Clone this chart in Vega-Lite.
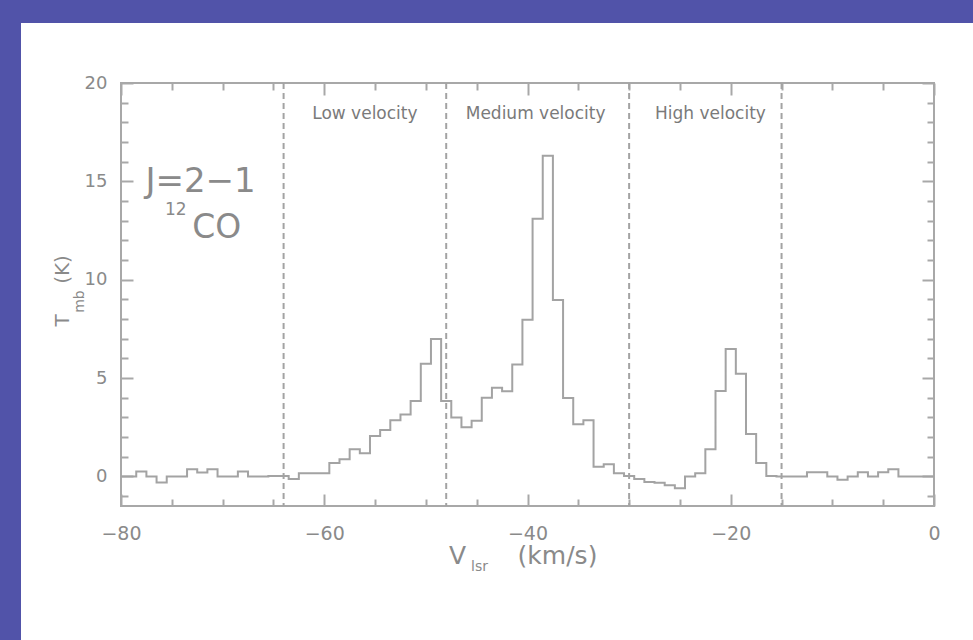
{
  "$schema": "https://vega.github.io/schema/vega-lite/v6.json",
  "padding": 0,
  "background": "#ffffff",
  "config": {
    "view": {"stroke": null},
    "font": "DejaVu Sans",
    "axis": {
      "grid": false,
      "domain": false,
      "labelFont": "DejaVu Sans",
      "titleFont": "DejaVu Sans",
      "titleFontWeight": "normal",
      "labelFlush": false,
      "labelOverlap": false,
      "tickColor": "#a8a8a8",
      "tickWidth": 2,
      "labelColor": "#8a8a8a",
      "titleColor": "#8a8a8a"
    }
  },
  "datasets": {
    "spectrum": [
      {"velocity": -80, "temperature": 0},
      {"velocity": -79, "temperature": 0},
      {"velocity": -78, "temperature": 0.25},
      {"velocity": -77, "temperature": 0},
      {"velocity": -76, "temperature": -0.3},
      {"velocity": -75, "temperature": 0},
      {"velocity": -74, "temperature": 0},
      {"velocity": -73, "temperature": 0.37},
      {"velocity": -72, "temperature": 0.2},
      {"velocity": -71, "temperature": 0.37},
      {"velocity": -70, "temperature": 0},
      {"velocity": -69, "temperature": 0},
      {"velocity": -68, "temperature": 0.25},
      {"velocity": -67, "temperature": 0},
      {"velocity": -66, "temperature": 0},
      {"velocity": -65, "temperature": 0.03},
      {"velocity": -64, "temperature": 0.03},
      {"velocity": -63, "temperature": -0.13},
      {"velocity": -62, "temperature": 0.17},
      {"velocity": -61, "temperature": 0.17},
      {"velocity": -60, "temperature": 0.17},
      {"velocity": -59, "temperature": 0.68},
      {"velocity": -58, "temperature": 0.88},
      {"velocity": -57, "temperature": 1.38},
      {"velocity": -56, "temperature": 1.18},
      {"velocity": -55, "temperature": 2.06},
      {"velocity": -54, "temperature": 2.36},
      {"velocity": -53, "temperature": 2.86},
      {"velocity": -52, "temperature": 3.15},
      {"velocity": -51, "temperature": 3.84},
      {"velocity": -50, "temperature": 5.73},
      {"velocity": -49, "temperature": 6.99},
      {"velocity": -48, "temperature": 3.84},
      {"velocity": -47, "temperature": 3.0},
      {"velocity": -46, "temperature": 2.5},
      {"velocity": -45, "temperature": 2.83},
      {"velocity": -44, "temperature": 4.0},
      {"velocity": -43, "temperature": 4.51},
      {"velocity": -42, "temperature": 4.33},
      {"velocity": -41, "temperature": 5.69},
      {"velocity": -40, "temperature": 7.97},
      {"velocity": -39, "temperature": 13.1},
      {"velocity": -38, "temperature": 16.3},
      {"velocity": -37, "temperature": 8.97},
      {"velocity": -36, "temperature": 3.99},
      {"velocity": -35, "temperature": 2.66},
      {"velocity": -34, "temperature": 2.86},
      {"velocity": -33, "temperature": 0.5},
      {"velocity": -32, "temperature": 0.62},
      {"velocity": -31, "temperature": 0.17},
      {"velocity": -30, "temperature": 0.03},
      {"velocity": -29, "temperature": -0.13},
      {"velocity": -28, "temperature": -0.28},
      {"velocity": -27, "temperature": -0.32},
      {"velocity": -26, "temperature": -0.44},
      {"velocity": -25, "temperature": -0.6},
      {"velocity": -24, "temperature": 0.0},
      {"velocity": -23, "temperature": 0.17},
      {"velocity": -22, "temperature": 1.38},
      {"velocity": -21, "temperature": 4.34},
      {"velocity": -20, "temperature": 6.48},
      {"velocity": -19, "temperature": 5.22},
      {"velocity": -18, "temperature": 2.16},
      {"velocity": -17, "temperature": 0.68},
      {"velocity": -16, "temperature": 0.03},
      {"velocity": -15, "temperature": 0},
      {"velocity": -14, "temperature": 0},
      {"velocity": -13, "temperature": 0},
      {"velocity": -12, "temperature": 0.22},
      {"velocity": -11, "temperature": 0.22},
      {"velocity": -10, "temperature": 0},
      {"velocity": -9, "temperature": -0.17},
      {"velocity": -8, "temperature": 0},
      {"velocity": -7, "temperature": 0.22},
      {"velocity": -6, "temperature": 0},
      {"velocity": -5, "temperature": 0.22},
      {"velocity": -4, "temperature": 0.37},
      {"velocity": -3, "temperature": 0},
      {"velocity": -2, "temperature": 0},
      {"velocity": -1, "temperature": 0},
      {"velocity": 0, "temperature": 0}
    ],
    "boundaries": [
      {"velocity": -64},
      {"velocity": -48},
      {"velocity": -30},
      {"velocity": -15}
    ],
    "regions": [
      {"region": "Low velocity", "velocity": -56, "temperature": 18.4},
      {"region": "Medium velocity", "velocity": -39.2, "temperature": 18.4},
      {"region": "High velocity", "velocity": -22, "temperature": 18.4}
    ],
    "transition": [
      {"label": "J=2−1", "velocity": -77.6, "temperature": 14.46}
    ],
    "isotopeMass": [
      {"label": "12", "velocity": -75.67, "temperature": 13.29}
    ],
    "molecule": [
      {"label": "CO", "velocity": -73.0, "temperature": 12.12}
    ]
  },
  "hconcat": [
    {
      "width": 21,
      "height": 640,
      "data": {"values": []},
      "mark": "rect",
      "view": {"fill": "#5153a9", "stroke": null}
    },
    {
      "vconcat": [
        {
          "width": 952,
          "height": 23,
          "data": {"values": []},
          "mark": "rect",
          "view": {"fill": "#5153a9", "stroke": null}
        },
        {
          "hconcat": [
            {
              "width": 1,
              "height": 1,
              "data": {"values": []},
              "mark": "rect"
            },
            {
              "width": 813,
              "height": 423,
              "view": {"stroke": "#a8a8a8", "strokeWidth": 2},
              "resolve": {"axis": {"x": "independent", "y": "independent"}},
              "layer": [
                {
                  "data": {"name": "spectrum"},
                  "mark": {"type": "line", "interpolate": "step", "stroke": "#a3a3a3", "strokeWidth": 2},
                  "encoding": {
                    "x": {
                      "field": "velocity", "type": "quantitative",
                      "scale": {"domain": [-80, 0], "nice": false, "zero": false},
                      "axis": {
                        "orient": "bottom", "values": [-80, -60, -40, -20, 0], "format": "d",
                        "ticks": false, "labelPadding": 18, "labelFontSize": 19,
                        "title": "V", "titleFontSize": 25, "titleX": 336, "titleY": 57,
                        "titleAlign": "center", "titleBaseline": "alphabetic"
                      }
                    },
                    "y": {
                      "field": "temperature", "type": "quantitative",
                      "scale": {"domain": [-1.5, 20], "nice": false, "zero": false},
                      "axis": {
                        "orient": "left", "values": [0, 5, 10, 15, 20], "format": "d",
                        "ticks": false, "labelPadding": 14, "labelFontSize": 18,
                        "title": "(K)", "titleFontSize": 20, "titleAngle": -90,
                        "titleX": -53, "titleY": 186, "titleAlign": "center", "titleBaseline": "alphabetic"
                      }
                    }
                  }
                },
                {
                  "data": {"name": "boundaries"},
                  "mark": {"type": "rule", "stroke": "#a3a3a3", "strokeWidth": 2, "strokeDash": [6, 4]},
                  "encoding": {
                    "x": {
                      "field": "velocity", "type": "quantitative",
                      "scale": {"domain": [-80, 0], "nice": false, "zero": false},
                      "axis": {
                        "orient": "bottom", "values": [-80, -60, -40, -20, 0],
                        "labels": false, "tickSize": -12,
                        "title": "lsr", "titleFontSize": 14, "titleX": 358, "titleY": 64,
                        "titleAlign": "center", "titleBaseline": "alphabetic"
                      }
                    }
                  }
                },
                {
                  "data": {"name": "regions"},
                  "mark": {"type": "text", "fontSize": 17, "fill": "#7a7a7a", "align": "center", "baseline": "middle"},
                  "encoding": {
                    "text": {"field": "region"},
                    "x": {
                      "field": "velocity", "type": "quantitative",
                      "scale": {"domain": [-80, 0], "nice": false, "zero": false},
                      "axis": {
                        "orient": "bottom",
                        "values": [-75, -70, -65, -55, -50, -45, -35, -30, -25, -15, -10, -5],
                        "labels": false, "tickSize": -7,
                        "title": "(km/s)", "titleFontSize": 25, "titleX": 436, "titleY": 57,
                        "titleAlign": "center", "titleBaseline": "alphabetic"
                      }
                    },
                    "y": {
                      "field": "temperature", "type": "quantitative",
                      "scale": {"domain": [-1.5, 20], "nice": false, "zero": false},
                      "axis": {
                        "orient": "left", "values": [0, 5, 10, 15, 20],
                        "labels": false, "tickSize": -12,
                        "title": "mb", "titleFontSize": 14, "titleAngle": -90,
                        "titleX": -38, "titleY": 218, "titleAlign": "center", "titleBaseline": "alphabetic"
                      }
                    }
                  }
                },
                {
                  "data": {"name": "transition"},
                  "mark": {"type": "text", "fontSize": 34, "fill": "#8a8a8a", "align": "left", "baseline": "alphabetic"},
                  "encoding": {
                    "text": {"field": "label"},
                    "x": {
                      "field": "velocity", "type": "quantitative",
                      "scale": {"domain": [-80, 0], "nice": false, "zero": false},
                      "axis": {
                        "orient": "top", "values": [-80, -60, -40, -20, 0],
                        "labels": false, "tickSize": -12, "title": null
                      }
                    },
                    "y": {
                      "field": "temperature", "type": "quantitative",
                      "scale": {"domain": [-1.5, 20], "nice": false, "zero": false},
                      "axis": {
                        "orient": "left",
                        "values": [-1, 1, 2, 3, 4, 6, 7, 8, 9, 11, 12, 13, 14, 16, 17, 18, 19],
                        "labels": false, "tickSize": -7,
                        "title": "T", "titleFontSize": 20, "titleAngle": -90,
                        "titleX": -53, "titleY": 237, "titleAlign": "center", "titleBaseline": "alphabetic"
                      }
                    }
                  }
                },
                {
                  "data": {"name": "isotopeMass"},
                  "mark": {"type": "text", "fontSize": 17, "fill": "#8a8a8a", "align": "left", "baseline": "alphabetic"},
                  "encoding": {
                    "text": {"field": "label"},
                    "x": {
                      "field": "velocity", "type": "quantitative",
                      "scale": {"domain": [-80, 0], "nice": false, "zero": false},
                      "axis": {
                        "orient": "top",
                        "values": [-75, -70, -65, -55, -50, -45, -35, -30, -25, -15, -10, -5],
                        "labels": false, "tickSize": -7, "title": null
                      }
                    },
                    "y": {
                      "field": "temperature", "type": "quantitative",
                      "scale": {"domain": [-1.5, 20], "nice": false, "zero": false},
                      "axis": {
                        "orient": "right", "values": [0, 5, 10, 15, 20],
                        "labels": false, "tickSize": -12, "title": null
                      }
                    }
                  }
                },
                {
                  "data": {"name": "molecule"},
                  "mark": {"type": "text", "fontSize": 33, "fill": "#8a8a8a", "align": "left", "baseline": "alphabetic"},
                  "encoding": {
                    "text": {"field": "label"},
                    "x": {
                      "field": "velocity", "type": "quantitative",
                      "scale": {"domain": [-80, 0], "nice": false, "zero": false},
                      "axis": null
                    },
                    "y": {
                      "field": "temperature", "type": "quantitative",
                      "scale": {"domain": [-1.5, 20], "nice": false, "zero": false},
                      "axis": {
                        "orient": "right",
                        "values": [-1, 1, 2, 3, 4, 6, 7, 8, 9, 11, 12, 13, 14, 16, 17, 18, 19],
                        "labels": false, "tickSize": -7, "title": null
                      }
                    }
                  }
                }
              ]
            }
          ],
          "spacing": 99,
          "bounds": "flush"
        }
      ],
      "spacing": 60,
      "bounds": "flush"
    }
  ],
  "spacing": 0,
  "bounds": "flush"
}
